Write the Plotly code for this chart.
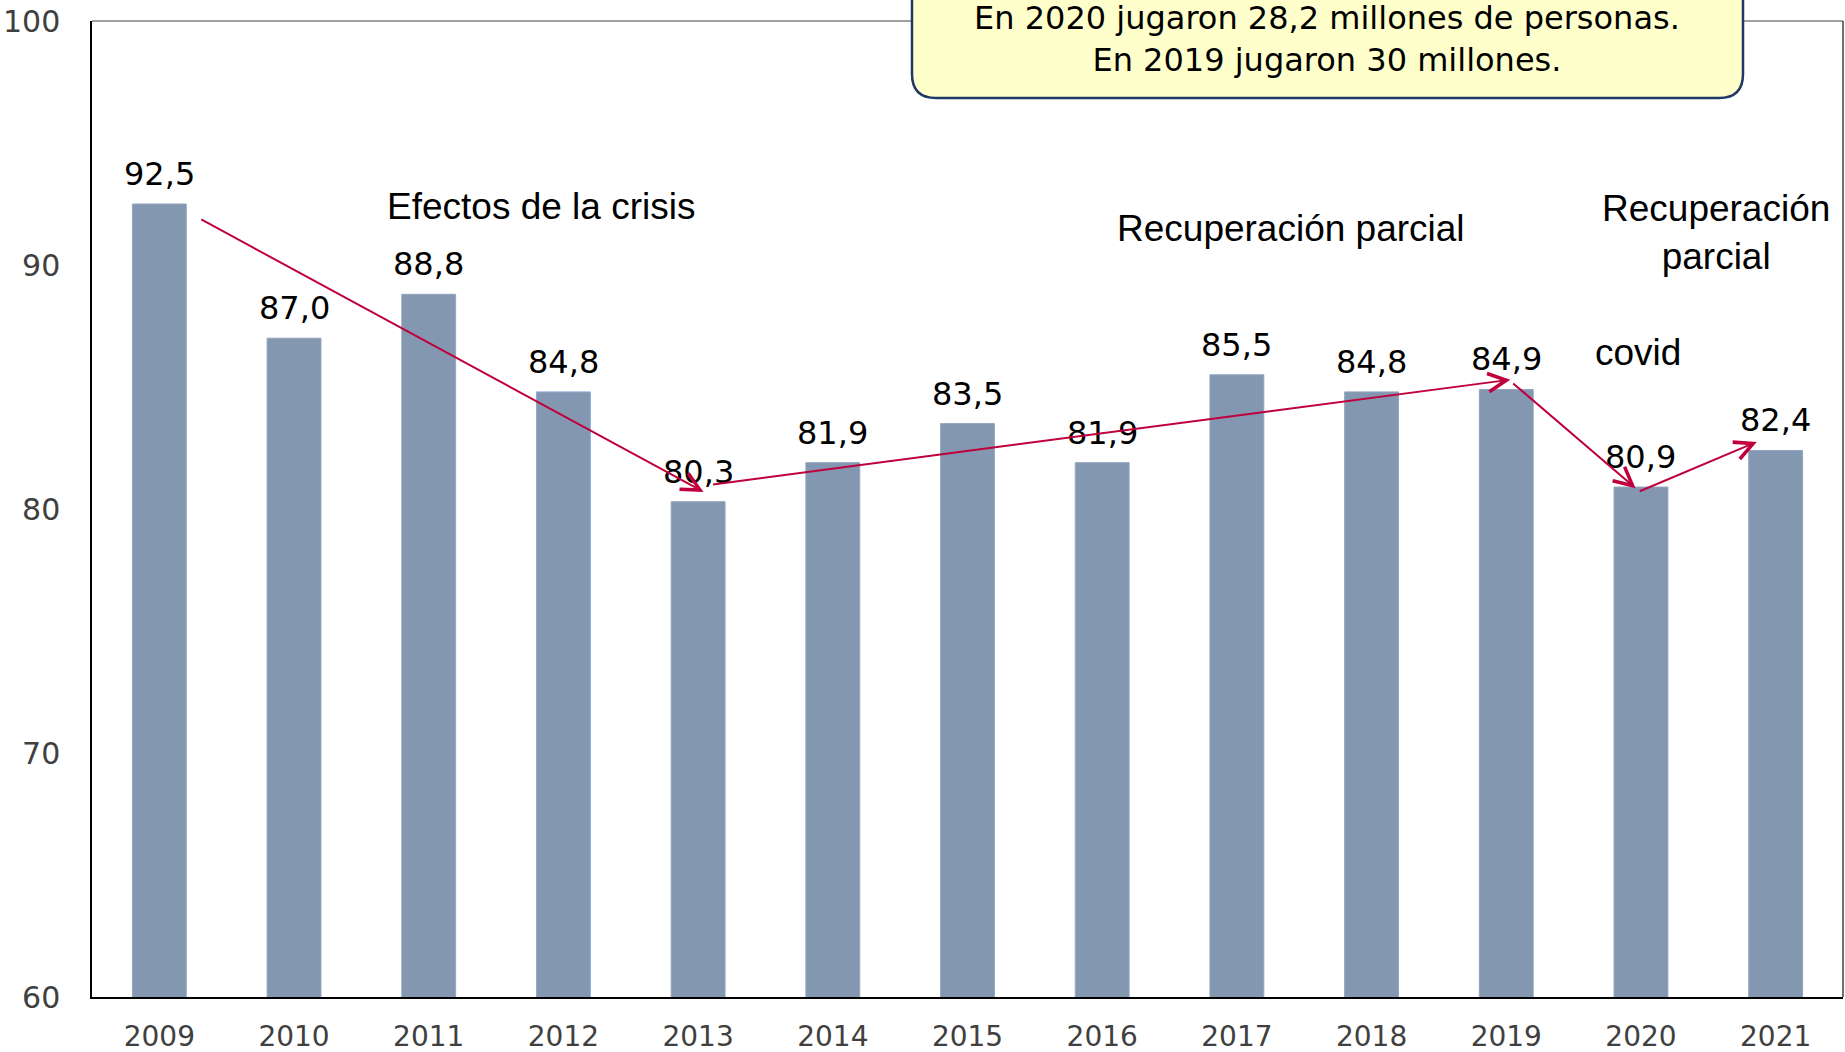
import plotly.graph_objects as go

# ---- data ----
years = ['2009', '2010', '2011', '2012', '2013', '2014', '2015',
         '2016', '2017', '2018', '2019', '2020', '2021']
values = [92.5, 87.0, 88.8, 84.8, 80.3, 81.9, 83.5, 81.9, 85.5, 84.8, 84.9, 80.9, 82.4]
value_labels = [f"{v:.1f}".replace('.', ',') for v in values]
y_ticks = [60, 70, 80, 90, 100]

box_lines = ["En 2020 jugaron 28,2 millones de personas.",
             "En 2019 jugaron 30 millones."]

# trend arrows: (start category index, start value, end category index, end value)
trend_arrows = [
    (0.30, 91.9, 4.04, 80.7),
    (4.10, 81.0, 10.03, 85.3),
    (10.04, 85.2, 10.96, 80.85),
    (10.98, 80.7, 11.86, 82.75),
]
# phase labels: (text, category index, value)
phase_labels = [
    ("Efectos de la crisis", 2.83, 92.4),
    ("Recuperación parcial", 8.40, 91.5),
    ("Recuperación<br>parcial", 11.56, 91.35),
    ("covid", 10.98, 86.4),
]

# ---- layout geometry (pixels) ----
W, H = 1845, 1052
ML, MR, MT, MB = 92, 2, 21, 55
PW = W - ML - MR
PH = H - MT - MB


def px2paper(px, py):
    return (px - ML) / PW, (H - MB - py) / PH


fig = go.Figure()
fig.add_trace(go.Bar(
    x=years, y=values,
    marker=dict(color='#8497B0',
                line=dict(color=['#93A6C0'] * 3 + ['#8EAADB'] + ['#93A6C0'] * 9, width=1)),
    hoverinfo='skip',
))

annotations = []
for i, (v, lab) in enumerate(zip(values, value_labels)):
    annotations.append(dict(
        x=i, y=v, xref='x', yref='y', text=lab, showarrow=False,
        xanchor='center', yanchor='bottom', yshift=9,
        font=dict(family='DejaVu Sans', size=32, color='#000000'),
    ))
for (x0, y0, x1, y1) in trend_arrows:
    annotations.append(dict(
        x=x1, y=y1, ax=x0, ay=y0, xref='x', yref='y', axref='x', ayref='y',
        text='', showarrow=True, arrowhead=5, arrowsize=1.8, arrowwidth=2,
        arrowcolor='#C0003C', standoff=0, startstandoff=0,
    ))
for (t, xi, yv) in phase_labels:
    annotations.append(dict(
        x=xi, y=yv, xref='x', yref='y', text=t, showarrow=False,
        font=dict(family='Liberation Sans, Arial', size=37, color='#000000'),
        xanchor='center', yanchor='middle', align='center',
    ))

# yellow rounded box
bx0, by0 = px2paper(912, 98)
bx1, by1 = px2paper(1743, -30)
r = 24
rx, ry = r / PW, r / PH
path = (f"M {bx0},{by1} L {bx0},{by0 + ry} Q {bx0},{by0} {bx0 + rx},{by0} "
        f"L {bx1 - rx},{by0} Q {bx1},{by0} {bx1},{by0 + ry} L {bx1},{by1} Z")
shapes = [
    dict(type='line', xref='paper', yref='paper', x0=0, x1=1, y0=1, y1=1,
         line=dict(color='#808080', width=1.5)),
    dict(type='line', xref='paper', yref='paper', x0=1, x1=1, y0=0, y1=1,
         line=dict(color='#404040', width=1.5)),
    dict(type='path', xref='paper', yref='paper', path=path,
         fillcolor='#FFFFCC', line=dict(color='#1F3864', width=2.5), layer='above'),
]
tx, ty = px2paper(1327, 39)
annotations.append(dict(
    x=tx, y=ty, xref='paper', yref='paper', text='<br>'.join(box_lines),
    showarrow=False, font=dict(family='DejaVu Sans', size=32, color='#000000'),
    xanchor='center', yanchor='middle', align='center',
))

fig.update_layout(
    width=W, height=H,
    margin=dict(l=ML, r=MR, t=MT, b=MB, pad=0),
    paper_bgcolor='white', plot_bgcolor='white',
    showlegend=False, bargap=0.6,
    annotations=annotations, shapes=shapes,
    xaxis=dict(type='category', range=[-0.5, len(years) - 0.5],
               showgrid=False, showline=True, linecolor='#000000',
               linewidth=1.5, ticks='', ticklabelstandoff=14, automargin=False,
               tickfont=dict(family='DejaVu Sans', size=28, color='#404040')),
    yaxis=dict(range=[60, 100], tickvals=y_ticks, showgrid=False, showline=True,
               linecolor='#000000', linewidth=1.5, ticks='', ticklabelstandoff=24,
               zeroline=False, automargin=False,
               tickfont=dict(family='DejaVu Sans', size=30, color='#404040')),
)

fig.write_html("out.html", config={'displayModeBar': False},
               post_script="document.body.style.margin='0';document.body.style.overflow='hidden';")
